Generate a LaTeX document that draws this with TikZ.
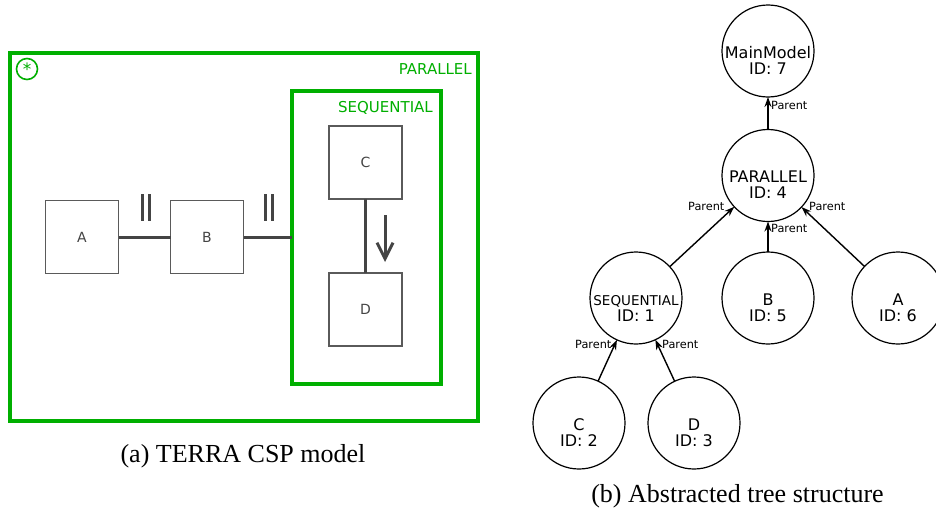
\documentclass[tikz,border=0pt]{standalone}
\usepackage{fontspec}
\setmainfont{Liberation Serif}
\newfontfamily\dvs{DejaVu Sans}
\usetikzlibrary{arrows.meta}
\definecolor{cspgreen}{RGB}{0,175,0}
\definecolor{boxgray}{RGB}{90,90,90}
\definecolor{linkgray}{RGB}{68,68,68}

% tree node: circle plus two centred text lines
\newcommand\treeitem[5]{%
  \node[treenode] (#1) at (#2,#3) {};
  \node[treetext] (#1-name) at (#2,#3+7) {#4};
  \node[treetext] (#1-id) at (#2,#3+23) {#5};
}

\begin{document}
\begin{tikzpicture}[x=1pt,y=-1pt,
  container/.style={draw=cspgreen, line width=3.2pt, inner sep=0pt, outer sep=0pt},
  procbox/.style={draw=boxgray, line width=1.3pt, minimum size=73pt, inner sep=0pt,
    outer sep=0pt, font=\dvs\fontsize{14}{16}\selectfont, text=linkgray},
  link/.style={draw=linkgray, line width=3pt},
  grouplabel/.style={font=\dvs\fontsize{15}{18}\selectfont, text=cspgreen,
    anchor=base east, inner sep=0pt},
  treenode/.style={draw, circle, line width=1.2pt, minimum size=92pt, inner sep=0pt, outer sep=0pt},
  treetext/.style={font=\dvs\fontsize{16}{18}\selectfont, anchor=base, inner sep=0pt},
  parentlbl/.style={font=\dvs\fontsize{11.3}{13}\selectfont, anchor=base west, inner sep=0pt},
  parentedge/.style={line width=1.4pt, -{Stealth[length=10pt,width=7pt]}},
  caption/.style={font=\fontsize{26}{30}\selectfont, anchor=base, inner sep=0pt}
]
\fill[white] (0,0) rectangle (936,514);
\useasboundingbox (0,0) rectangle (936,514);

% ---------- (a) CSP model ----------
\node[container, minimum width=468pt, minimum height=368pt] (par) at (244,237) {};
\node[grouplabel] (parlbl) at (472,74) {PARALLEL};
\node[draw=cspgreen, circle, line width=1.6pt, minimum size=21pt, inner sep=0pt,
  font=\dvs\fontsize{17}{17}\selectfont, text=cspgreen] (loop) at (27,69) {*};

\node[container, minimum width=149pt, minimum height=293pt] (seq) at (366.5,237.5) {};
\node[grouplabel] (seqlbl) at (433,112) {SEQUENTIAL};

\node[procbox] (A) at (82,237) {A};
\node[procbox] (B) at (207,237) {B};
\node[procbox] (C) at (365.5,162.5) {C};
\node[procbox] (D) at (365.5,309.5) {D};

\draw[link] (A) -- (B);
\draw[link] (B.east) -- (B.east -| seq.west);
\draw[link] (C) -- (D);

% parallel markers
\draw[link, line width=2.6pt] (142.7,194) -- (142.7,221);
\draw[link, line width=2.6pt] (149.3,194) -- (149.3,221);
\draw[link, line width=2.6pt] (265.7,194) -- (265.7,221);
\draw[link, line width=2.6pt] (272.3,194) -- (272.3,221);

% sequence direction
\coordinate (seqdirA) at (385,215);
\coordinate (seqdirB) at (385,262);
\draw[link, -{Straight Barb[length=16pt,width=16pt]}] (seqdirA) -- (seqdirB);

\node[caption] (capa) at (243,462) {(a) TERRA CSP model};

% ---------- (b) tree ----------
\treeitem{main}{768}{51}{MainModel}{ID: 7}
\treeitem{parnode}{768}{175.5}{PARALLEL}{ID: 4}
\treeitem{seqnode}{636}{298}{\fontsize{13.5}{16}\selectfont SEQUENTIAL}{ID: 1}
\treeitem{bnode}{768}{298}{B}{ID: 5}
\treeitem{anode}{898}{298}{A}{ID: 6}
\treeitem{cnode}{579}{423}{C}{ID: 2}
\treeitem{dnode}{694}{423}{D}{ID: 3}

\draw[parentedge] (parnode) -- (main);
\draw[parentedge] (seqnode) -- (parnode);
\draw[parentedge] (bnode) -- (parnode);
\draw[parentedge] (anode) -- (parnode);
\draw[parentedge] (cnode) -- (seqnode);
\draw[parentedge] (dnode) -- (seqnode);

\node[parentlbl] (p1) at (771,109) {Parent};
\node[parentlbl] (p2) at (771,232) {Parent};
\node[parentlbl] (p3) at (688,210) {Parent};
\node[parentlbl] (p4) at (809,210) {Parent};
\node[parentlbl] (p5) at (575,348) {Parent};
\node[parentlbl] (p6) at (662,348) {Parent};

\node[caption] (capb) at (737.5,502) {(b) Abstracted tree structure};
\end{tikzpicture}
\end{document}
